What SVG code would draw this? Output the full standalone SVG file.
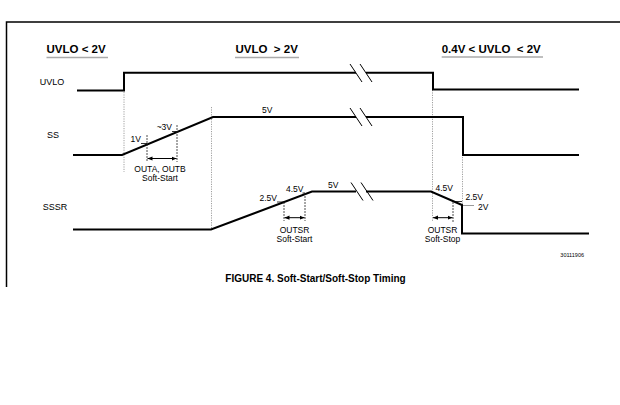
<svg xmlns="http://www.w3.org/2000/svg" width="620" height="405" viewBox="0 0 620 405">
<defs>
<marker id="ah" viewBox="0 0 6 6" refX="6" refY="3" markerWidth="5" markerHeight="5" markerUnits="userSpaceOnUse" orient="auto-start-reverse"><path d="M0,0.5 L6,3 L0,5.5 Z" fill="#000"/></marker>
</defs>
<style>
.sig{fill:none;stroke:#000;stroke-width:2;stroke-linejoin:miter}
.brk{stroke:#000;stroke-width:1}
.guide{stroke:#888;stroke-width:0.8;stroke-dasharray:1.2 1.2}
.meas{stroke:#222;stroke-width:0.8;stroke-dasharray:2 1}
.tick{stroke:#000;stroke-width:0.8}
.gtick{stroke:#999;stroke-width:1}
.arr{stroke:#000;stroke-width:1;marker-start:url(#ah);marker-end:url(#ah)}
.hd{font-family:"Liberation Sans",Arial,sans-serif;font-weight:bold;font-size:11.5px;fill:#000}
.ul{stroke:#aaa;stroke-width:1.5}
.lb{font-family:"Liberation Sans",Arial,sans-serif;font-size:9px;fill:#000}
.sm{font-family:"Liberation Sans",Arial,sans-serif;font-size:8.5px;fill:#000}
.cap{font-family:"Liberation Sans",Arial,sans-serif;font-weight:bold;font-size:10px;fill:#000}
.mid{text-anchor:middle}
.end{text-anchor:end}
</style>
<rect x="0" y="0" width="620" height="405" fill="#fff"/>
<path d="M6.5,287 V22 H620" fill="none" stroke="#000" stroke-width="1.5"/>

<g id="headings">
<text class="hd" x="46.5" y="53">UVLO &lt; 2V</text>
<line class="ul" x1="46.5" y1="57.5" x2="108" y2="57.5"/>
<text class="hd" x="235.5" y="53">UVLO&#160; &gt; 2V</text>
<line class="ul" x1="235" y1="57.5" x2="299" y2="57.5"/>
<text class="hd" x="441.7" y="53">0.4V &lt; UVLO&#160; &lt; 2V</text>
<line class="ul" x1="441.7" y1="57" x2="543" y2="57"/>
</g>

<g id="guides">
<line class="guide" x1="124" y1="92" x2="124" y2="172"/>
<line class="guide" x1="211.5" y1="107" x2="211.5" y2="228"/>
<line class="guide" x1="432.5" y1="90" x2="432.5" y2="222"/>
<line class="guide" x1="462.5" y1="157" x2="462.5" y2="205"/>
</g>

<g id="uvlo">
<text class="lb mid" x="52" y="85">UVLO</text>
<path class="sig" d="M77,90.5 H124 V72.7 H356"/>
<path class="sig" d="M366,72.7 H433 V89.5 H579"/>
<line class="brk" x1="350" y1="64" x2="362" y2="82"/>
<line class="brk" x1="360" y1="64" x2="372" y2="82"/>
</g>

<g id="ss">
<text class="lb mid" x="53" y="138">SS</text>
<path class="sig" d="M73,155 H122 L213,117 H356"/>
<path class="sig" d="M366,117 H463 V155 H579"/>
<line class="brk" x1="350" y1="108" x2="362" y2="126"/>
<line class="brk" x1="360" y1="108" x2="372" y2="126"/>
<text class="sm" x="262" y="113">5V</text>
<text class="sm end" x="141" y="142">1V</text>
<line class="tick" x1="141" y1="143.5" x2="147" y2="143.5"/>
<text class="sm end" x="172" y="130">~3V</text>
<line class="tick" x1="172" y1="131.5" x2="177" y2="131.5"/>
<line class="meas" x1="147" y1="135" x2="147" y2="162"/>
<line class="meas" x1="177" y1="125" x2="177" y2="162"/>
<line class="arr" x1="147.5" y1="158.5" x2="176.5" y2="158.5"/>
<text class="sm mid" x="160" y="172">OUTA, OUTB</text>
<text class="sm mid" x="160" y="181">Soft-Start</text>
</g>

<g id="sssr">
<text class="lb mid" x="55" y="210">SSSR</text>
<path class="sig" d="M73,229.5 H211 L312,191.5 H356"/>
<path class="sig" d="M366,191.5 H431 L462,205 V233.5 H589"/>
<line class="brk" x1="351" y1="182.5" x2="363" y2="200.5"/>
<line class="brk" x1="361" y1="182.5" x2="373" y2="200.5"/>
<text class="sm" x="328" y="188">5V</text>
<text class="sm end" x="277" y="201">2.5V</text>
<line class="tick" x1="277" y1="202" x2="284" y2="202"/>
<text class="sm" x="286" y="192">4.5V</text>
<line class="tick" x1="302.5" y1="193" x2="305" y2="193"/>
<line class="meas" x1="284" y1="202" x2="284" y2="221"/>
<line class="meas" x1="305" y1="193" x2="305" y2="221"/>
<line class="arr" x1="284.5" y1="217.7" x2="304.5" y2="217.7"/>
<text class="sm mid" x="294.5" y="233">OUTSR</text>
<text class="sm mid" x="294.5" y="242">Soft-Start</text>

<text class="sm" x="435.5" y="191">4.5V</text>
<text class="sm" x="465.5" y="200">2.5V</text>
<line class="tick" x1="453" y1="201.5" x2="462" y2="201.5"/>
<line class="gtick" x1="463" y1="205.5" x2="474" y2="205.5"/>
<text class="sm" x="478" y="210">2V</text>
<line class="meas" x1="453" y1="202" x2="453" y2="222"/>
<line class="arr" x1="433" y1="217.7" x2="452.5" y2="217.7"/>
<text class="sm mid" x="442.5" y="232.5">OUTSR</text>
<text class="sm mid" x="442.5" y="242">Soft-Stop</text>
</g>

<g id="caption">
<text class="sm end" x="584" y="257" style="font-size:5.5px">30111906</text>
<text class="cap mid" x="315.5" y="281.5">FIGURE 4. Soft-Start/Soft-Stop Timing</text>
</g>
</svg>
